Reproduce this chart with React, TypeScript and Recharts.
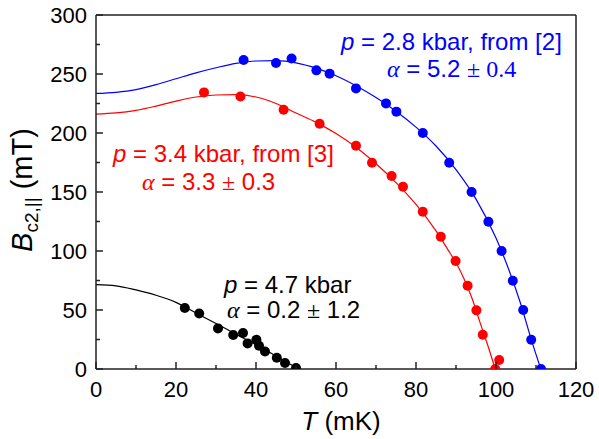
import { ComposedChart, Line, Scatter, XAxis, YAxis } from 'recharts';

const SANS = '"Liberation Sans", Arial, sans-serif';
const SERIF = '"Liberation Serif", "Times New Roman", serif';
const AXIS = '#222';

const tempTicks = [0, 10, 20, 30, 40, 50, 60, 70, 80, 90, 100, 110, 120];
const fieldTicks = [0, 25, 50, 75, 100, 125, 150, 175, 200, 225, 250, 275, 300];

// p = 2.8 kbar
const blueT = [36.9, 45.0, 48.9, 55.1, 58.4, 65.0, 72.5, 75.1, 81.7, 88.3, 93.9, 98.1, 101.4, 104.2, 106.8, 108.8, 111.25];
const blueB = [261.9, 259.3, 263.2, 253.1, 250.3, 237.8, 225.1, 218.1, 200, 174.8, 150, 124.8, 100, 74.8, 50, 24.8, 0];
const blueFitT = [0, 5, 10, 15, 20, 25, 30, 35, 40, 45, 50, 55, 60, 65, 70, 75, 80, 85, 90, 95, 100, 103, 106, 109, 111.2];
const blueFitB = [233.5, 234.5, 236.8, 241, 246, 251, 255.3, 259, 261, 261.3, 259.5, 255, 248.5, 240, 230, 218.5, 205, 189, 169, 144, 111, 86, 57, 23, 0];

// p = 3.4 kbar
const redT = [27, 36.1, 46.9, 55.9, 65, 69, 73.9, 76.75, 81.7, 86.2, 89.9, 92.9, 95.1, 96.7, 100.8, 99.8];
const redB = [234.4, 231, 219.7, 207.9, 189.2, 174.8, 163.6, 154.5, 133.3, 112.1, 91.5, 70.6, 49.7, 29.1, 7.6, 0];
const redFitT = [0, 5, 10, 15, 20, 25, 30, 35, 40, 45, 50, 55, 60, 65, 70, 75, 80, 85, 88, 90, 92, 94, 96, 98, 99.8];
const redFitB = [216, 217, 219.2, 222.8, 227, 230.5, 232.2, 232.5, 230.5, 225, 217, 209, 199.5, 188, 174, 158, 139.5, 117, 101, 90, 76.5, 60, 39.5, 19.5, 0];

// p = 4.7 kbar
const blackT = [22.2, 25.8, 30.5, 34.3, 36.75, 37.9, 40.1, 40.75, 42.25, 45.2, 47.25, 50];
const blackB = [51.7, 47.1, 34.4, 28.8, 30.5, 21.7, 24.8, 19.7, 14.9, 9.6, 5.1, 0.8];
const blackFitT = [0, 5, 10, 15, 20, 25, 30, 35, 40, 45, 50, 50.6];
const blackFitB = [71.5, 70.5, 67, 62.5, 56.5, 47.5, 38.5, 29.5, 20.5, 11, 1.2, 0];

const rows = (t: number[], b: number[]) => t.map((T, i) => ({ T, B: b[i] }));

const dot = (color: string) => (props: any) => (
  <circle cx={props.cx} cy={props.cy} r={5} fill={color} />
);

// ticks point into the plot; labels only on major ticks
const BottomTick = ({ x, y, payload }: any) => {
  const major = payload.value % 20 === 0;
  return (
    <g>
      <line x1={x} x2={x} y1={y} y2={y - (major ? 7 : 4)} stroke={AXIS} strokeWidth={1.5} />
      {major && (
        <text x={x} y={y + 28} textAnchor="middle" fontSize={22} fontFamily={SANS} fill="#000">
          {payload.value}
        </text>
      )}
    </g>
  );
};

const TopTick = ({ x, y, payload }: any) => {
  const major = payload.value % 20 === 0;
  return <line x1={x} x2={x} y1={y} y2={y + (major ? 7 : 4)} stroke={AXIS} strokeWidth={1.5} />;
};

const LeftTick = ({ x, y, payload }: any) => {
  const major = payload.value % 50 === 0;
  return (
    <g>
      <line x1={x} x2={x + (major ? 7 : 4)} y1={y} y2={y} stroke={AXIS} strokeWidth={1.5} />
      {major && (
        <text x={x - 9} y={y + 8} textAnchor="end" fontSize={22} fontFamily={SANS} fill="#000">
          {payload.value}
        </text>
      )}
    </g>
  );
};

const RightTick = ({ x, y, payload }: any) => {
  const major = payload.value % 50 === 0;
  return <line x1={x} x2={x - (major ? 7 : 4)} y1={y} y2={y} stroke={AXIS} strokeWidth={1.5} />;
};

const axisLine = { stroke: AXIS, strokeWidth: 1.5 };

export default function App() {
  return (
    <div style={{ position: 'relative', width: 599, height: 439, background: '#fff' }}>
      <style>{'body{margin:0}'}</style>
      <ComposedChart width={599} height={439} margin={{ top: 0, right: 0, bottom: 0, left: 0 }}>
        <XAxis
          dataKey="T"
          type="number"
          domain={[0, 120]}
          ticks={tempTicks}
          interval={0}
          height={70}
          tickSize={0}
          tickMargin={0}
          tickLine={false}
          axisLine={axisLine}
          tick={<BottomTick />}
          allowDataOverflow
        />
        <XAxis
          xAxisId="top"
          orientation="top"
          type="number"
          domain={[0, 120]}
          ticks={tempTicks}
          interval={0}
          height={15}
          tickSize={0}
          tickMargin={0}
          tickLine={false}
          axisLine={axisLine}
          tick={<TopTick />}
        />
        <YAxis
          dataKey="B"
          type="number"
          domain={[0, 300]}
          ticks={fieldTicks}
          interval={0}
          width={96}
          tickSize={0}
          tickMargin={0}
          tickLine={false}
          axisLine={axisLine}
          tick={<LeftTick />}
          allowDataOverflow
        />
        <YAxis
          yAxisId="right"
          orientation="right"
          type="number"
          domain={[0, 300]}
          ticks={fieldTicks}
          interval={0}
          width={23}
          tickSize={0}
          tickMargin={0}
          tickLine={false}
          axisLine={axisLine}
          tick={<RightTick />}
        />
        <Line data={rows(blueFitT, blueFitB)} dataKey="B" type="monotone" stroke="#0000ff" strokeWidth={1.2} dot={false} isAnimationActive={false} />
        <Line data={rows(redFitT, redFitB)} dataKey="B" type="monotone" stroke="#ff0000" strokeWidth={1.2} dot={false} isAnimationActive={false} />
        <Line data={rows(blackFitT, blackFitB)} dataKey="B" type="monotone" stroke="#000000" strokeWidth={1.2} dot={false} isAnimationActive={false} />
        <Scatter data={rows(blueT, blueB)} dataKey="B" shape={dot('#0000ff')} isAnimationActive={false} />
        <Scatter data={rows(redT, redB)} dataKey="B" shape={dot('#ff0000')} isAnimationActive={false} />
        <Scatter data={rows(blackT, blackB)} dataKey="B" shape={dot('#000000')} isAnimationActive={false} />
      </ComposedChart>

      <svg width={599} height={439} style={{ position: 'absolute', left: 0, top: 0, pointerEvents: 'none' }}>
        <g fontFamily={SANS} fontSize={24}>
          <text x={341} y={50} fill="#0000ff">
            <tspan fontStyle="italic">p</tspan> = 2.8 kbar, from [2]
          </text>
          <text x={387} y={77} fill="#0000ff">
            <tspan fontFamily={SERIF} fontStyle="italic">α</tspan> = 5.2 <tspan fontFamily={SERIF}>± 0.4</tspan>
          </text>

          <text x={113} y={162} fill="#ff0000">
            <tspan fontStyle="italic">p</tspan> = 3.4 kbar, from [3]
          </text>
          <text x={142} y={190} fill="#ff0000">
            <tspan fontFamily={SERIF} fontStyle="italic">α</tspan> = 3.3 <tspan fontFamily={SERIF}>±</tspan> 0.3
          </text>

          <text x={224} y={293} fill="#000">
            <tspan fontStyle="italic">p</tspan> = 4.7 kbar
          </text>
          <text x={227} y={318} fill="#000">
            <tspan fontFamily={SERIF} fontStyle="italic">α</tspan> = 0.2 <tspan fontFamily={SERIF}>±</tspan> 1.2
          </text>
        </g>

        <text x={341} y={430} textAnchor="middle" fontFamily={SANS} fontSize={26} fill="#000">
          <tspan fontStyle="italic">T</tspan> (mK)
        </text>

        <text transform="translate(32,190) rotate(-90)" textAnchor="middle" fontFamily={SANS} fontSize={29} fill="#000">
          <tspan fontStyle="italic">B</tspan>
          <tspan fontSize={19} dy={6}>c2,||</tspan>
          <tspan dy={-6}> (mT)</tspan>
        </text>
      </svg>
    </div>
  );
}
